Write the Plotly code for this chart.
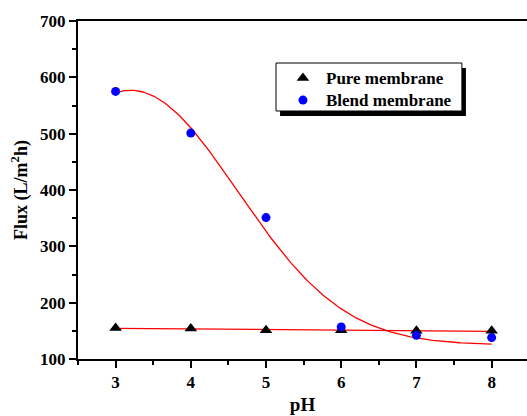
import numpy as np
import plotly.graph_objects as go

# ---- data ----
ph = [3, 4, 5, 6, 7, 8]
pure_flux = [155, 154, 151, 151, 150, 150]
blend_flux = [575, 501, 351, 157, 142, 138]

x_ticks = [3, 4, 5, 6, 7, 8]
y_ticks = [100, 200, 300, 400, 500, 600, 700]

legend_labels = ["Pure membrane", "Blend membrane"]

# Gaussian fit parameters for the blend membrane (as shown in the reference)
gauss_y0 = 125.0
gauss_A = 452.0
gauss_xc = 3.2
gauss_w = 1.416

# ---- fits ----
x_fit = np.linspace(min(ph), max(ph), 200)
lin = np.polyfit(ph, pure_flux, 1)
pure_fit = np.polyval(lin, x_fit)
blend_fit = gauss_y0 + gauss_A * np.exp(-((x_fit - gauss_xc) ** 2) / (2 * gauss_w ** 2))

FONT = "Liberation Serif"
TRI = dict(symbol="triangle-up", size=11, color="black")
DOT = dict(symbol="circle", size=9, color="#0000ff")

fig = go.Figure()
fig.add_trace(go.Scatter(x=x_fit, y=pure_fit, mode="lines",
                         line=dict(color="#ff0000", width=1.3), showlegend=False))
fig.add_trace(go.Scatter(x=x_fit, y=blend_fit, mode="lines",
                         line=dict(color="#ff0000", width=1.3), showlegend=False))
fig.add_trace(go.Scatter(x=ph, y=pure_flux, mode="markers", name=legend_labels[0],
                         marker=TRI, showlegend=False))
fig.add_trace(go.Scatter(x=ph, y=blend_flux, mode="markers", name=legend_labels[1],
                         marker=DOT, showlegend=False))

# ---- hand-drawn legend (box with drop shadow) ----
box = dict(x0=0.441, x1=0.855, y0=0.7337, y1=0.8757)
sh_dx, sh_dy = 0.009, 0.015
fig.add_shape(type="rect", xref="paper", yref="paper",
              x0=box["x0"] + sh_dx, x1=box["x1"] + sh_dx,
              y0=box["y0"] - sh_dy, y1=box["y1"] - sh_dy,
              fillcolor="black", line=dict(width=0), layer="below")
fig.add_shape(type="rect", xref="paper", yref="paper", **box,
              fillcolor="white", line=dict(color="black", width=1), layer="below")
row_y = [0.831, 0.766]
key_x = 0.501
text_x = 0.548
fig.add_trace(go.Scatter(x=[key_x], y=[row_y[0]], xaxis="x2", yaxis="y2", mode="markers",
                         marker=TRI, showlegend=False, hoverinfo="skip"))
fig.add_trace(go.Scatter(x=[key_x], y=[row_y[1]], xaxis="x2", yaxis="y2", mode="markers",
                         marker=DOT, showlegend=False, hoverinfo="skip"))
for lbl, yy in zip(legend_labels, row_y):
    fig.add_annotation(xref="paper", yref="paper", x=text_x, y=yy, text=lbl,
                       showarrow=False, xanchor="left", yanchor="middle",
                       font=dict(family=FONT, size=17, color="black", weight="bold"))

axis_common = dict(
    showgrid=False, zeroline=False, showline=True, linecolor="black", linewidth=2,
    ticks="outside", ticklen=7, tickwidth=1.5, tickcolor="black", automargin=False,
)

fig.update_layout(
    xaxis=dict(**axis_common, range=[2.5, 8.47], tickvals=x_ticks, mirror=True,
               tickfont=dict(family=FONT, size=17, color="black", weight="bold"),
               minor=dict(ticks="outside", ticklen=4, tickwidth=1.5, tickcolor="black", dtick=0.5),
               title=dict(text="pH", font=dict(family=FONT, size=19, color="black", weight="bold"),
                          standoff=6)),
    yaxis=dict(**axis_common, range=[100, 700], tickvals=y_ticks,
               tickfont=dict(family=FONT, size=17, color="black", weight="bold"),
               minor=dict(ticks="outside", ticklen=4, tickwidth=1.5, tickcolor="black", dtick=50),
               title=dict(text="Flux (L/m<sup>2</sup>h)",
                          font=dict(family=FONT, size=18, color="black", weight="bold"), standoff=8)),
    xaxis2=dict(overlaying="x", range=[0, 1], visible=False),
    yaxis2=dict(overlaying="y", range=[0, 1], visible=False),
    width=527, height=416,
    margin=dict(l=78, r=0, t=21, b=57),
    plot_bgcolor="white", paper_bgcolor="white",
    showlegend=False,
    font=dict(family=FONT, color="black"),
)

fig.write_html("out.html", config={"displayModeBar": False},
               post_script="document.body.style.margin='0';")
